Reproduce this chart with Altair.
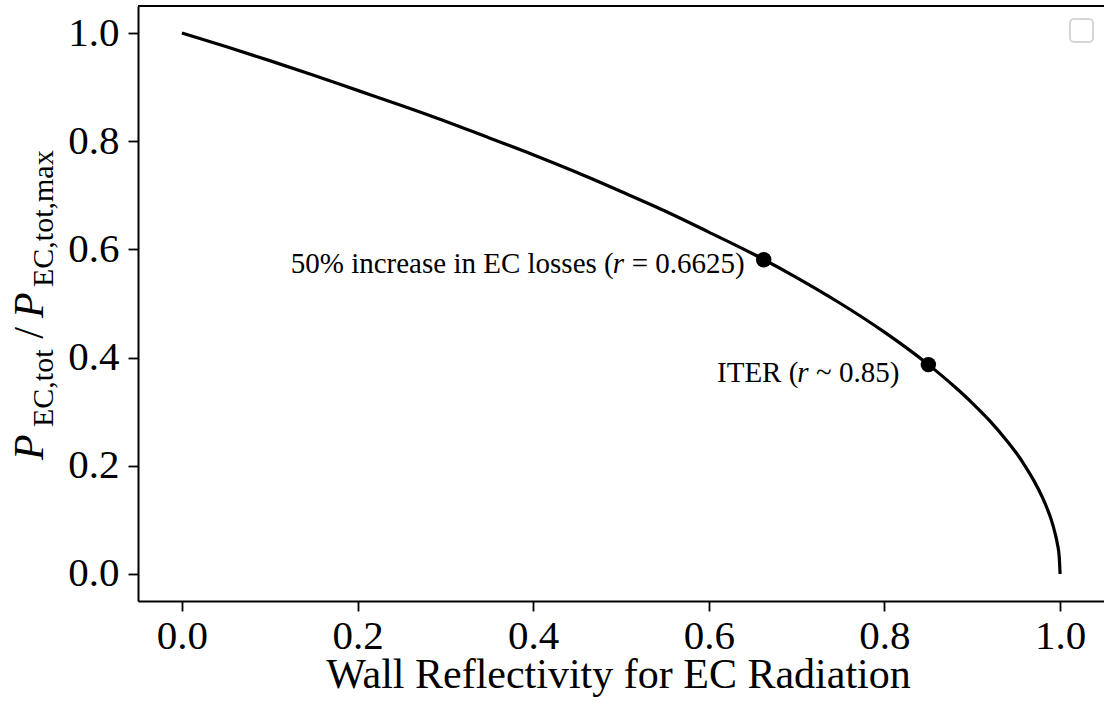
import altair as alt
import pandas as pd

# ---- data ----
reflectivity = [0.0, 0.05, 0.1, 0.15, 0.2, 0.25, 0.3, 0.35, 0.4, 0.45, 0.5, 0.55,
                0.6, 0.65, 0.7, 0.75, 0.8, 0.85, 0.88, 0.9, 0.92, 0.94, 0.95, 0.96,
                0.97, 0.98, 0.985, 0.99, 0.994, 0.997, 0.999, 1.0]
power_ratio = [1.0, 0.975, 0.949, 0.922, 0.894, 0.866, 0.837, 0.806, 0.775, 0.742,
               0.707, 0.671, 0.632, 0.592, 0.548, 0.500, 0.447, 0.387, 0.346, 0.316,
               0.283, 0.245, 0.224, 0.200, 0.173, 0.141, 0.122, 0.100, 0.077, 0.055,
               0.032, 0.0]
marker_r = [0.6625, 0.85]
marker_p = [0.581, 0.387]
x_ticks = [0.0, 0.2, 0.4, 0.6, 0.8, 1.0]
y_ticks = [0.0, 0.2, 0.4, 0.6, 0.8, 1.0]
x_title = "Wall Reflectivity for EC Radiation"

FONT = "Liberation Serif"
W, H = 966, 595

curve_df = pd.DataFrame({"r": reflectivity, "p": power_ratio})
pts_df = pd.DataFrame({"r": marker_r, "p": marker_p})

xs = alt.Scale(domain=[-0.05, 1.05], nice=False, zero=False)
ys = alt.Scale(domain=[-0.05, 1.05], nice=False, zero=False)

axis_common = dict(labelFont=FONT, labelFontSize=41, labelColor="black",
                   tickColor="black", tickWidth=1.8, tickSize=10,
                   domainColor="black", domainWidth=2, grid=False, title=None,
                   format=".1f")

X = alt.X("r:Q", scale=xs, axis=alt.Axis(values=x_ticks, labelPadding=5, **axis_common))
Y = alt.Y("p:Q", scale=ys, axis=alt.Axis(values=y_ticks, labelPadding=9, **axis_common))

curve = alt.Chart(curve_df).mark_line(color="black", strokeWidth=3.2,
                                      interpolate="monotone").encode(x=X, y=Y)
points = alt.Chart(pts_df).mark_point(filled=True, color="black", size=240,
                                      opacity=1).encode(x="r:Q", y="p:Q")


def ann(i, text, dx, dy, align, italic=False):
    d = pd.DataFrame({"r": [marker_r[i]], "p": [marker_p[i]], "t": [text]})
    return alt.Chart(d).mark_text(font=FONT, fontSize=29, color="black", align=align,
                                  baseline="alphabetic", dx=dx, dy=dy,
                                  fontStyle="italic" if italic else "normal").encode(
        x="r:Q", y="p:Q", text="t:N")


anns = [
    ann(0, "50% increase in EC losses (", -150, 13, "right"),
    ann(0, "r", -151, 13, "left", italic=True),
    ann(0, "= 0.6625)", -19, 13, "right"),
    ann(1, "ITER (", -130, 17, "right"),
    ann(1, "r", -131, 17, "left", italic=True),
    ann(1, "~ 0.85)", -29, 17, "right"),
]

one = pd.DataFrame({"a": [0]})
top_spine = alt.Chart(one).mark_rule(color="black", strokeWidth=2).encode(
    x=alt.value(0), x2=alt.value(W), y=alt.value(0))
legend_box = alt.Chart(one).mark_rect(fill="white", stroke="#d6d6d6", strokeWidth=2,
                                      cornerRadius=4).encode(
    x=alt.value(932), x2=alt.value(955), y=alt.value(13), y2=alt.value(36))

xtitle = alt.Chart(pd.DataFrame({"t": [x_title]})).mark_text(
    font=FONT, fontSize=42, color="black", align="center", baseline="alphabetic").encode(
    x=alt.value(480.5), y=alt.value(682), text="t:N")


def ytxt(text, xb, ystart, size, italic=False, align="left"):
    return alt.Chart(pd.DataFrame({"t": [text]})).mark_text(
        font=FONT, fontSize=size, color="black", align=align, baseline="alphabetic",
        angle=270, fontStyle="italic" if italic else "normal").encode(
        x=alt.value(xb - 138), y=alt.value(ystart - 6), text="t:N")


ytitle = [
    ytxt("P", 43, 460, 42, italic=True),
    ytxt("EC,tot", 53, 427, 30),
    ytxt("/", 43, 333, 42, align="center"),
    ytxt("P", 43, 318, 42, italic=True),
    ytxt("EC,tot,max", 53, 287, 30),
]

chart = alt.layer(curve, points, *anns, top_spine, legend_box, xtitle, *ytitle).properties(
    width=W, height=H,
    autosize=alt.AutoSizeParams(type="none"),
    padding={"left": 138, "top": 6, "right": 0, "bottom": 112},
).configure_view(stroke=None).configure(background="white")

chart.save("out.html", embed_options={"renderer": "svg", "actions": False})
